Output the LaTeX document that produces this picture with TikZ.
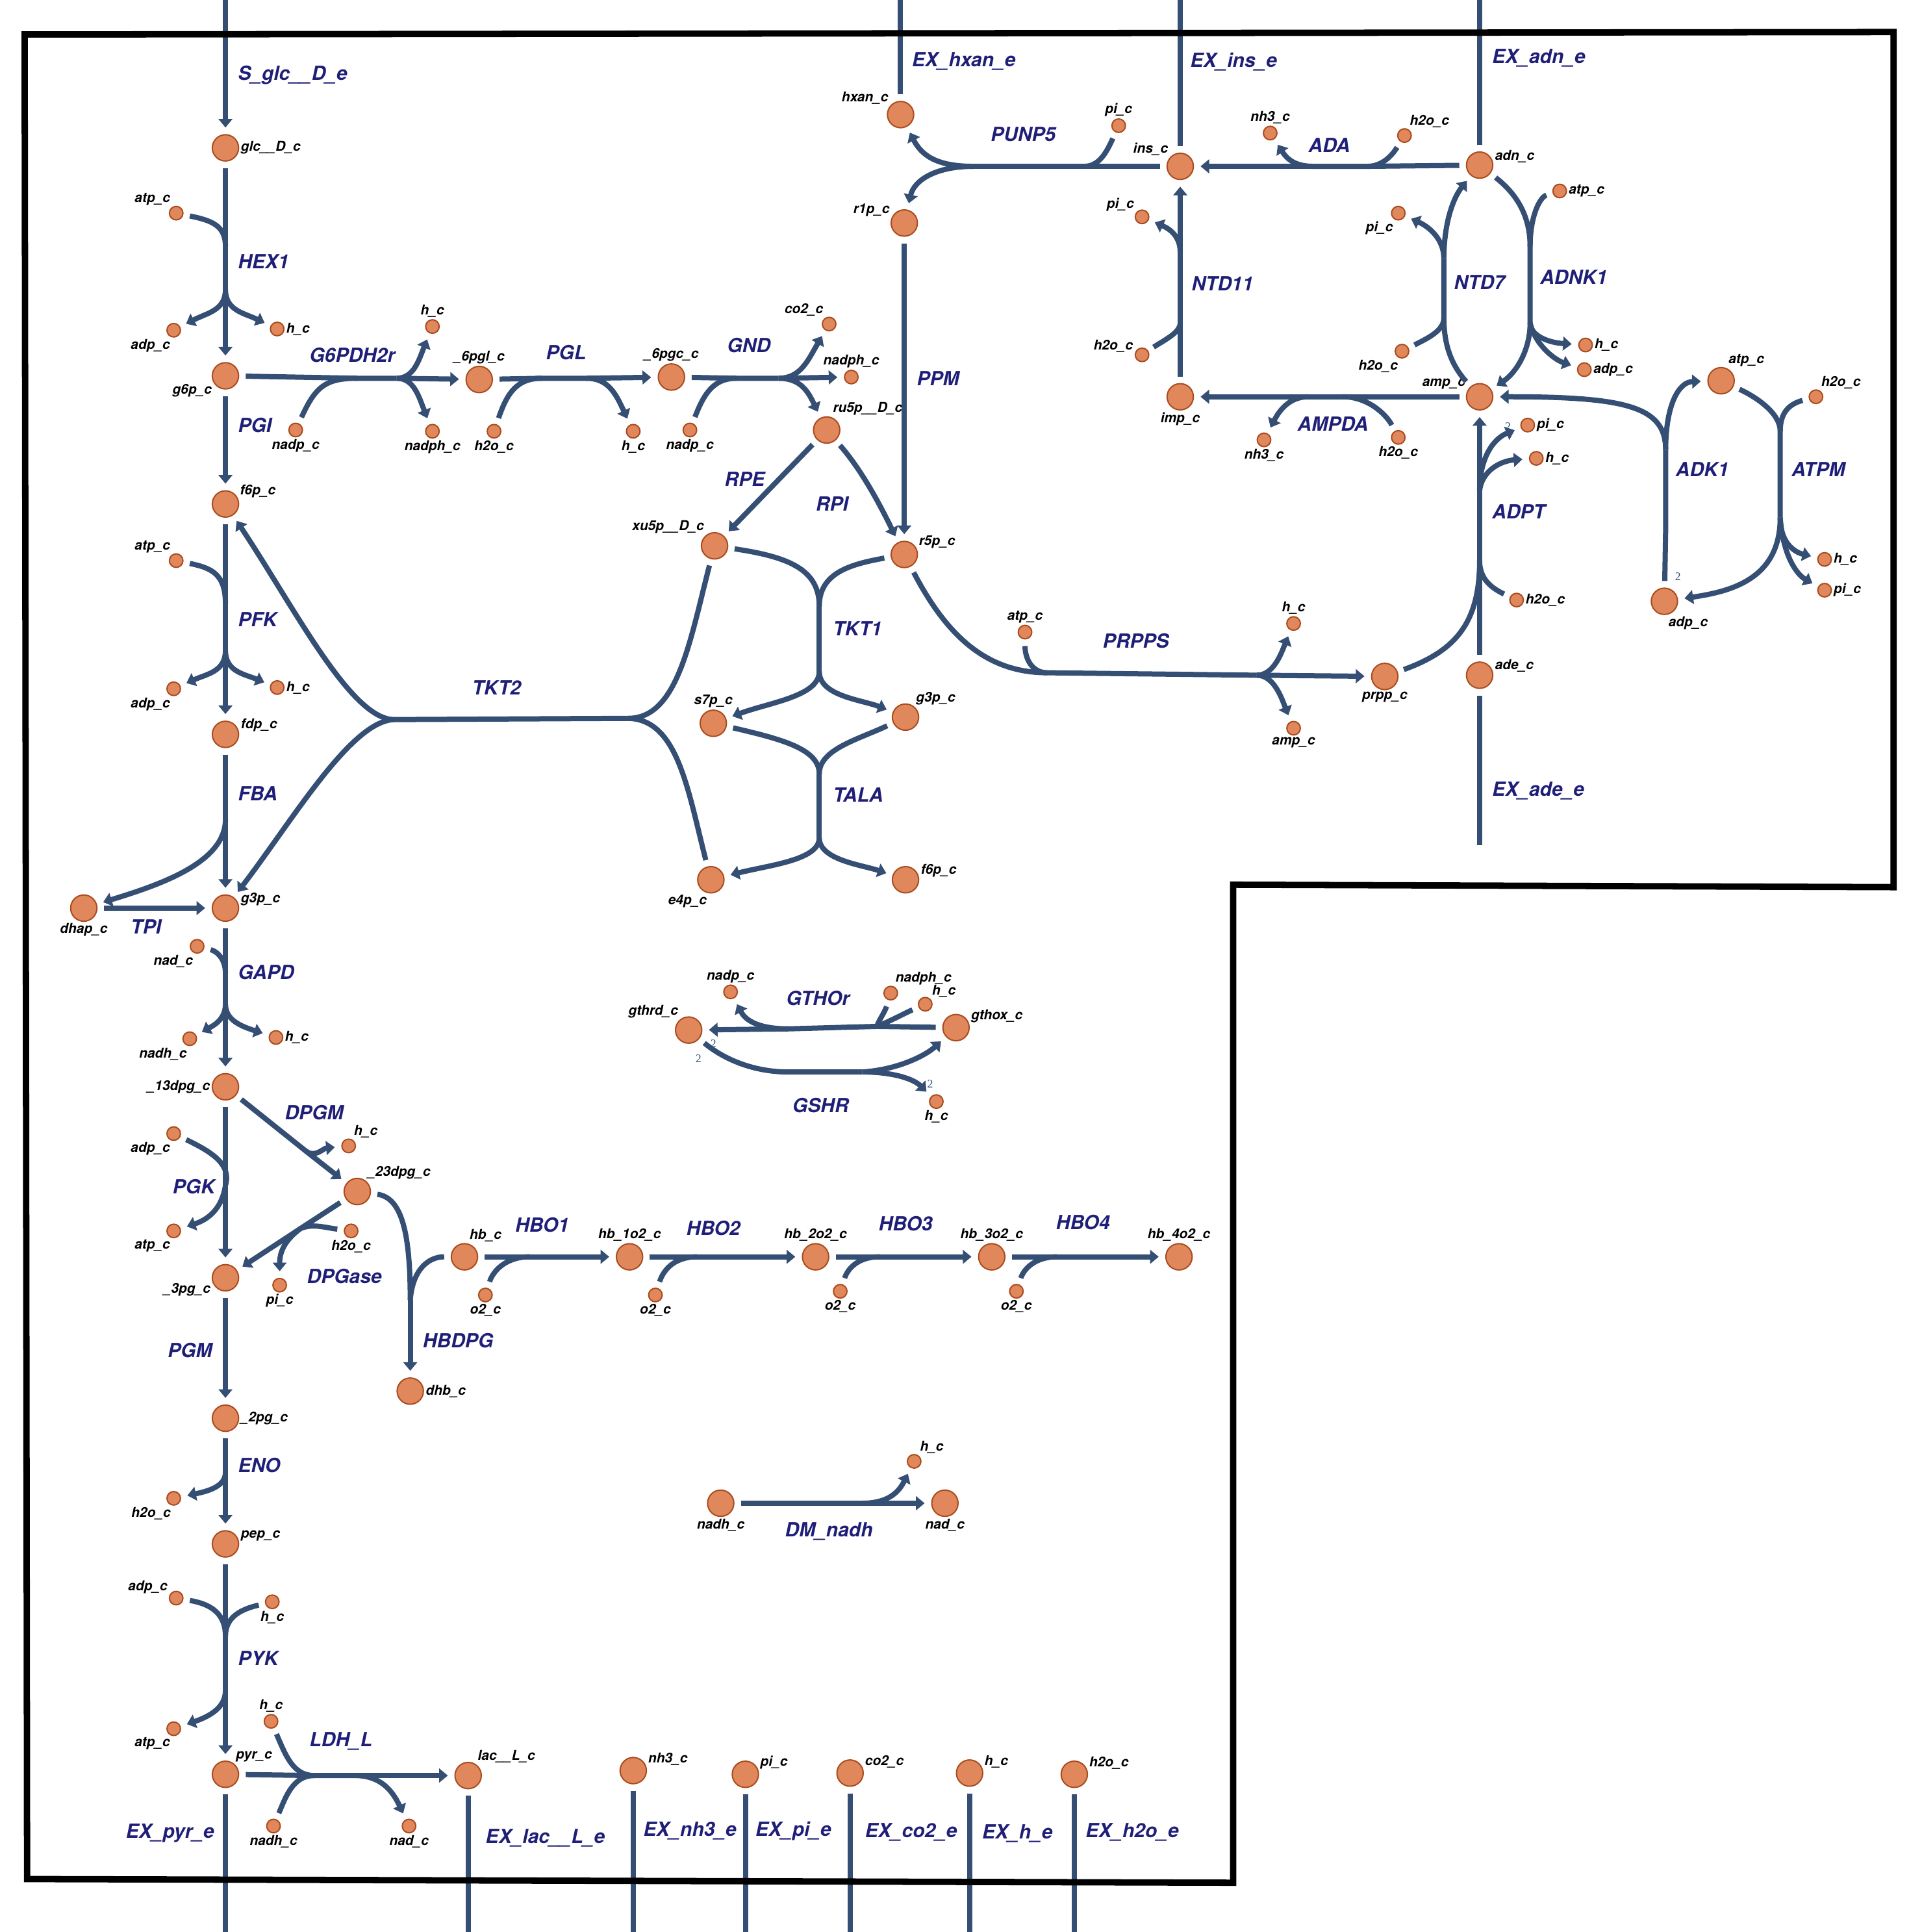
\documentclass[tikz,border=0pt]{standalone}
\usepackage{fontspec}
\setmainfont{TeX Gyre Heros}
\newfontfamily\stoichfont{Liberation Serif}
\usetikzlibrary{arrows.meta}

\definecolor{rxnline}{HTML}{344E74}
\definecolor{rxntext}{HTML}{1F1F78}
\definecolor{metfill}{HTML}{E0885C}
\definecolor{metedge}{HTML}{AA4B1E}

\tikzset{
  met/.style={circle, draw=metedge, fill=metfill, line width=0.9pt, minimum size=0.64cm, inner sep=0pt},
  cof/.style={met, minimum size=0.33cm},
  ml/.style={font=\fontsize{9.4}{10}\selectfont\bfseries\itshape, text=black, inner sep=1pt},
  rl/.style={font=\fontsize{13.5}{15}\selectfont\bfseries\itshape, text=rxntext, anchor=west, inner sep=0pt},
  st/.style={font=\fontsize{8}{9}\selectfont\stoichfont, text=rxnline, inner sep=0pt},
  rxn/.style={draw=rxnline, line width=3.6pt},
  sub/.style={shorten <=4.5pt},
  prod/.style={-{Triangle[length=6pt,width=9.5pt]}, shorten >=4.5pt},
}

\begin{document}
\begin{tikzpicture}[x=0.03cm, y=-0.03cm]
\useasboundingbox (0,0) rectangle (1560,1568);

% glycolysis
\node[met, label={[ml]0:glc\_\_D\_c}] (glc) at (183,120) {};
\node[cof, label={[ml]125:atp\_c}] (atpA) at (143,173) {};
\node[cof, label={[ml]-105:adp\_c}] (adpA) at (141,268) {};
\node[cof, label={[ml]0:h\_c}] (hA) at (225,267) {};
\node[met, label={[ml]-150:g6p\_c}] (g6p) at (183,305) {};
\node[met, label={[ml]20:f6p\_c}] (f6p) at (183,409) {};
\node[cof, label={[ml]125:atp\_c}] (atpB) at (143,455) {};
\node[cof, label={[ml]-105:adp\_c}] (adpB) at (141,559) {};
\node[cof, label={[ml]0:h\_c}] (hD) at (225,558) {};
\node[met, label={[ml]5:fdp\_c}] (fdp) at (183,596) {};
\node[met, label={[ml]-90:dhap\_c}] (dhap) at (68,737) {};
\node[met, label={[ml]3:g3p\_c}] (g3p) at (183,737) {};
\node[cof, label={[ml]-110:nad\_c}] (nadA) at (160,768) {};
\node[cof, label={[ml]-100:nadh\_c}] (nadhA) at (154,843) {};
\node[cof, label={[ml]0:h\_c}] (hE) at (224,842) {};
\node[met, label={[ml]180:\_13dpg\_c}] (dpg13) at (183,882) {};
\node[cof, label={[ml]-105:adp\_c}] (adpC) at (141,920) {};
\node[cof, label={[ml]-105:atp\_c}] (atpC) at (141,999) {};
\node[cof, label={[ml]60:h\_c}] (hF) at (283,930) {};
\node[met, label={[ml]50:\_23dpg\_c}] (dpg23) at (290,967) {};
\node[cof, label={[ml]-90:h2o\_c}] (h2oB) at (285,999) {};
\node[met, label={[ml]-165:\_3pg\_c}] (pg3) at (183,1037) {};
\node[cof, label={[ml]-90:pi\_c}] (piA) at (227,1043) {};
\node[met, label={[ml]0:\_2pg\_c}] (pg2) at (183,1151) {};
\node[cof, label={[ml]-100:h2o\_c}] (h2oC) at (141,1216) {};
\node[met, label={[ml]5:pep\_c}] (pep) at (183,1253) {};
\node[cof, label={[ml]160:adp\_c}] (adpD) at (143,1297) {};
\node[cof, label={[ml]-90:h\_c}] (hG) at (221,1300) {};
\node[cof, label={[ml]-105:atp\_c}] (atpD) at (141,1403) {};
\node[cof, label={[ml]90:h\_c}] (hH) at (220,1397) {};
\node[met, label={[ml]50:pyr\_c}] (pyr) at (183,1440) {};
\node[cof, label={[ml]-90:nadh\_c}] (nadhB) at (222,1482) {};
\node[cof, label={[ml]-90:nad\_c}] (nadB) at (332,1482) {};
\node[met, label={[ml]55:lac\_\_L\_c}] (lac) at (380,1441) {};

% hemoglobin
\node[met, label={[ml]75:hb\_c}] (hb) at (377,1020) {};
\node[met, label={[ml]0:dhb\_c}] (dhb) at (333,1129) {};
\node[cof, label={[ml]-90:o2\_c}] (o2A) at (394,1051) {};
\node[met, label={[ml]90:hb\_1o2\_c}] (hb1) at (511,1020) {};
\node[cof, label={[ml]-90:o2\_c}] (o2B) at (532,1051) {};
\node[met, label={[ml]90:hb\_2o2\_c}] (hb2) at (662,1020) {};
\node[cof, label={[ml]-90:o2\_c}] (o2C) at (682,1048) {};
\node[met, label={[ml]90:hb\_3o2\_c}] (hb3) at (805,1020) {};
\node[cof, label={[ml]-90:o2\_c}] (o2D) at (825,1048) {};
\node[met, label={[ml]90:hb\_4o2\_c}] (hb4) at (957,1020) {};

% pentose phosphate
\node[cof, label={[ml]-90:nadp\_c}] (nadpA) at (240,349) {};
\node[cof, label={[ml]90:h\_c}] (hB) at (351,265) {};
\node[cof, label={[ml]-90:nadph\_c}] (nadphA) at (351,350) {};
\node[met, label={[ml]90:\_6pgl\_c}] (pgl6) at (389,308) {};
\node[cof, label={[ml]-90:h2o\_c}] (h2oA) at (401,350) {};
\node[cof, label={[ml]-90:h\_c}] (hC) at (514,350) {};
\node[met, label={[ml]90:\_6pgc\_c}] (pgc6) at (545,306) {};
\node[cof, label={[ml]-90:nadp\_c}] (nadpB) at (560,349) {};
\node[cof, label={[ml]125:co2\_c}] (co2A) at (673,263) {};
\node[cof, label={[ml]90:nadph\_c}] (nadphB) at (691,306) {};
\node[met, label={[ml]70:ru5p\_\_D\_c}] (ru5p) at (671,349) {};
\node[met, label={[ml]130:xu5p\_\_D\_c}] (xu5p) at (580,443) {};
\node[met, label={[ml]20:r5p\_c}] (r5p) at (734,450) {};
\node[met, label={[ml]160:r1p\_c}] (r1p) at (734,181) {};
\node[met, label={[ml]140:hxan\_c}] (hxan) at (731,93) {};
\node[met, label={[ml]90:s7p\_c}] (s7p) at (579,587) {};
\node[met, label={[ml]50:g3p\_c}] (g3pB) at (735,582) {};
\node[met, label={[ml]-100:e4p\_c}] (e4p) at (577,714) {};
\node[met, label={[ml]5:f6p\_c}] (f6pB) at (735,714) {};
\node[cof, label={[ml]90:atp\_c}] (atpE) at (832,513) {};
\node[cof, label={[ml]90:h\_c}] (hI) at (1050,506) {};
\node[cof, label={[ml]-90:amp\_c}] (ampB) at (1050,591) {};
\node[met, label={[ml]-90:prpp\_c}] (prpp) at (1124,549) {};

% purines
\node[cof, label={[ml]90:pi\_c}] (piB) at (908,102) {};
\node[met, label={[ml]140:ins\_c}] (ins) at (958,135) {};
\node[cof, label={[ml]90:nh3\_c}] (nh3A) at (1031,108) {};
\node[cof, label={[ml]60:h2o\_c}] (h2oD) at (1140,110) {};
\node[met, label={[ml]3:adn\_c}] (adn) at (1201,134) {};
\node[cof, label={[ml]0:atp\_c}] (atpF) at (1266,155) {};
\node[cof, label={[ml]150:pi\_c}] (piC) at (927,176) {};
\node[cof, label={[ml]175:h2o\_c}] (h2oE) at (927,288) {};
\node[met, label={[ml]-90:imp\_c}] (imp) at (958,322) {};
\node[cof, label={[ml]-90:nh3\_c}] (nh3B) at (1026,357) {};
\node[cof, label={[ml]-90:h2o\_c}] (h2oF) at (1135,355) {};
\node[met, label={[ml]155:amp\_c}] (amp) at (1201,322) {};
\node[cof, label={[ml]-120:pi\_c}] (piD) at (1135,173) {};
\node[cof, label={[ml]-110:h2o\_c}] (h2oG) at (1138,285) {};
\node[cof, label={[ml]0:h\_c}] (hJ) at (1287,280) {};
\node[cof, label={[ml]0:adp\_c}] (adpE) at (1286,300) {};
\node[cof, label={[ml]0:pi\_c}] (piE) at (1240,345) {};
\node[cof, label={[ml]0:h\_c}] (hK) at (1247,372) {};
\node[cof, label={[ml]0:h2o\_c}] (h2oH) at (1231,487) {};
\node[met, label={[ml]5:ade\_c}] (ade) at (1201,548) {};
\node[met, label={[ml]65:atp\_c}] (atpG) at (1397,309) {};
\node[cof, label={[ml]60:h2o\_c}] (h2oI) at (1474,322) {};
\node[cof, label={[ml]0:h\_c}] (hL) at (1481,454) {};
\node[cof, label={[ml]0:pi\_c}] (piF) at (1481,479) {};
\node[met, label={[ml]-80:adp\_c}] (adpF) at (1351,488) {};

% glutathione, nadh
\node[cof, label={[ml]90:nadp\_c}] (nadpC) at (593,805) {};
\node[cof, label={[ml]65:nadph\_c}] (nadphC) at (723,806) {};
\node[cof, label={[ml]45:h\_c}] (hM) at (751,815) {};
\node[met, label={[ml]130:gthrd\_c}] (gthrd) at (559,836) {};
\node[met, label={[ml]15:gthox\_c}] (gthox) at (776,834) {};
\node[cof, label={[ml]-90:h\_c}] (hN) at (760,894) {};
\node[met, label={[ml]-90:nadh\_c}] (nadhC) at (585,1220) {};
\node[cof, label={[ml]55:h\_c}] (hO) at (742,1186) {};
\node[met, label={[ml]-90:nad\_c}] (nadC) at (767,1220) {};

% exchanged metabolites
\node[met, label={[ml]15:nh3\_c}] (nh3X) at (514,1437) {};
\node[met, label={[ml]15:pi\_c}] (piX) at (605,1440) {};
\node[met, label={[ml]15:co2\_c}] (co2X) at (690,1439) {};
\node[met, label={[ml]15:h\_c}] (hX) at (787,1439) {};
\node[met, label={[ml]15:h2o\_c}] (h2oX) at (872,1440) {};

% exchange ends
\coordinate (glcE) at (183,0);
\coordinate (hxanE) at (731,0);
\coordinate (insE) at (958,0);
\coordinate (adnE) at (1201,0);
\coordinate (adeE) at (1201,686);
\coordinate (pyrE) at (183,1568);
\coordinate (lacE) at (380,1568);
\coordinate (nh3E) at (514,1568);
\coordinate (piXE) at (605,1568);
\coordinate (co2XE) at (690,1568);
\coordinate (hXE) at (787,1568);
\coordinate (h2oXE) at (872,1568);

\draw[rxn, prod] (glcE) -- (glc);
\draw[rxn, sub] (hxan) -- (hxanE);
\draw[rxn, sub] (ins) -- (insE);
\draw[rxn, sub] (adn) -- (adnE);
\draw[rxn, sub] (ade) -- (adeE);
\draw[rxn, sub] (pyr) -- (pyrE);
\draw[rxn, sub] (lac) -- (lacE);
\draw[rxn, sub] (nh3X) -- (nh3E);
\draw[rxn, sub] (piX) -- (piXE);
\draw[rxn, sub] (co2X) -- (co2XE);
\draw[rxn, sub] (hX) -- (hXE);
\draw[rxn, sub] (h2oX) -- (h2oXE);

% HEX1
\coordinate (hex1a) at (183,200);
\coordinate (hex1b) at (183,235);
\draw[rxn, sub] (glc) -- (hex1a) -- (hex1b);
\draw[rxn, prod] (hex1b) -- (g6p);
\draw[rxn, sub] (atpA) .. controls (172,179) and (183,183) .. (hex1a);
\draw[rxn, prod] (hex1b) .. controls (183,252) and (168,254) .. (adpA);
\draw[rxn, prod] (hex1b) .. controls (183,252) and (198,254) .. (hA);

% PGI
\draw[rxn, sub, prod] (g6p) -- (f6p);

% G6PDH2r
\coordinate (g6pdha) at (290,307);
\coordinate (g6pdhb) at (322,307);
\draw[rxn, sub] (g6p) -- (g6pdha) -- (g6pdhb);
\draw[rxn, prod] (g6pdhb) -- (pgl6);
\draw[rxn, sub] (nadpA) .. controls (256,314) and (264,307) .. (g6pdha);
\draw[rxn, prod] (g6pdhb) .. controls (336,307) and (340,292) .. (hB);
\draw[rxn, prod] (g6pdhb) .. controls (336,307) and (340,322) .. (nadphA);

% PGL
\coordinate (pgla) at (440,307);
\coordinate (pglb) at (476,307);
\draw[rxn, sub] (pgl6) -- (pgla) -- (pglb);
\draw[rxn, prod] (pglb) -- (pgc6);
\draw[rxn, sub] (h2oA) .. controls (412,318) and (420,307) .. (pgla);
\draw[rxn, prod] (pglb) .. controls (494,307) and (500,320) .. (hC);

% GND
\coordinate (gnda) at (598,307);
\coordinate (gndb) at (632,307);
\draw[rxn, sub] (pgc6) -- (gnda) -- (gndb);
\draw[rxn, prod] (gndb) -- (nadphB);
\draw[rxn, sub] (nadpB) .. controls (572,318) and (580,307) .. (gnda);
\draw[rxn, prod] (gndb) .. controls (650,307) and (656,292) .. (co2A);
\draw[rxn, prod] (gndb) .. controls (650,307) and (656,318) .. (ru5p);

% RPE, RPI, PPM
\draw[rxn, sub, prod] (ru5p) -- (xu5p);
\draw[rxn, sub, prod] (ru5p) .. controls (698,380) and (712,405) .. (r5p);
\draw[rxn, sub, prod] (r1p) -- (r5p);

% PUNP5
\coordinate (punp5a) at (880,135);
\coordinate (punp5b) at (790,135);
\draw[rxn, sub] (ins) -- (punp5a) -- (punp5b);
\draw[rxn, sub] (piB) .. controls (898,124) and (892,135) .. (punp5a);
\draw[rxn, prod] (punp5b) .. controls (760,135) and (748,126) .. (hxan);
\draw[rxn, prod] (punp5b) .. controls (760,135) and (742,146) .. (r1p);

% ADA
\coordinate (adaa) at (1110,135);
\coordinate (adab) at (1066,135);
\draw[rxn, sub] (adn) -- (adaa) -- (adab);
\draw[rxn, prod] (adab) -- (ins);
\draw[rxn, sub] (h2oD) .. controls (1130,126) and (1122,135) .. (adaa);
\draw[rxn, prod] (adab) .. controls (1050,135) and (1044,128) .. (nh3A);

% NTD11
\coordinate (ntd11a) at (958,262);
\coordinate (ntd11b) at (958,205);
\draw[rxn, sub] (imp) -- (ntd11a) -- (ntd11b);
\draw[rxn, prod] (ntd11b) -- (ins);
\draw[rxn, sub] (h2oE) .. controls (945,276) and (958,270) .. (ntd11a);
\draw[rxn, prod] (ntd11b) .. controls (958,192) and (950,186) .. (piC);

% AMPDA
\coordinate (ampdaa) at (1090,322);
\coordinate (ampdab) at (1062,322);
\draw[rxn, sub] (amp) -- (ampdaa) -- (ampdab);
\draw[rxn, prod] (ampdab) -- (imp);
\draw[rxn, sub] (h2oF) .. controls (1125,336) and (1110,322) .. (ampdaa);
\draw[rxn, prod] (ampdab) .. controls (1046,322) and (1038,334) .. (nh3B);

% NTD7
\coordinate (ntd7a) at (1172,258);
\coordinate (ntd7b) at (1172,210);
\draw[rxn, sub] (amp) .. controls (1178,296) and (1172,280) .. (ntd7a) -- (ntd7b);
\draw[rxn, prod] (ntd7b) .. controls (1172,180) and (1180,160) .. (adn);
\draw[rxn, sub] (h2oG) .. controls (1160,274) and (1172,268) .. (ntd7a);
\draw[rxn, prod] (ntd7b) .. controls (1172,194) and (1160,184) .. (piD);

% ADNK1
\coordinate (adnk1a) at (1242,200);
\coordinate (adnk1b) at (1242,262);
\draw[rxn, sub] (adn) .. controls (1228,155) and (1242,172) .. (adnk1a) -- (adnk1b);
\draw[rxn, prod] (adnk1b) .. controls (1242,285) and (1230,303) .. (amp);
\draw[rxn, sub] (atpF) .. controls (1250,160) and (1242,175) .. (adnk1a);
\draw[rxn, prod] (adnk1b) .. controls (1242,272) and (1256,278) .. (hJ);
\draw[rxn, prod] (adnk1b) .. controls (1246,280) and (1262,292) .. (adpE);

% ADK1
\coordinate (adk1a) at (1352,430);
\coordinate (adk1b) at (1352,365);
\draw[rxn, sub] (adpF) -- (adk1a) -- (adk1b);
\draw[rxn, prod] (adk1b) .. controls (1352,330) and (1320,322) .. (amp);
\draw[rxn, prod] (adk1b) .. controls (1352,330) and (1362,310) .. (atpG);

% ATPM
\coordinate (atpma) at (1445,350);
\coordinate (atpmb) at (1445,420);
\draw[rxn, sub] (atpG) .. controls (1425,322) and (1445,335) .. (atpma) -- (atpmb);
\draw[rxn, sub] (h2oI) .. controls (1452,328) and (1445,335) .. (atpma);
\draw[rxn, prod] (atpmb) .. controls (1445,470) and (1405,480) .. (adpF);
\draw[rxn, prod] (atpmb) .. controls (1445,440) and (1456,448) .. (hL);
\draw[rxn, prod] (atpmb) .. controls (1447,450) and (1458,466) .. (piF);

% ADPT
\coordinate (adpta) at (1201,455);
\coordinate (adptb) at (1201,398);
\draw[rxn, sub] (ade) -- (adpta) -- (adptb);
\draw[rxn, prod] (adptb) -- (amp);
\draw[rxn, sub] (prpp) .. controls (1182,528) and (1201,505) .. (adpta);
\draw[rxn, sub] (h2oH) .. controls (1208,476) and (1201,468) .. (adpta);
\draw[rxn, prod] (adptb) .. controls (1201,372) and (1212,356) .. (piE);
\draw[rxn, prod] (adptb) .. controls (1203,382) and (1218,374) .. (hK);

% PRPPS
\coordinate (prppsa) at (850,546);
\coordinate (prppsb) at (1020,548);
\draw[rxn, sub] (r5p) .. controls (768,515) and (800,546) .. (prppsa) -- (prppsb);
\draw[rxn, prod] (prppsb) -- (prpp);
\draw[rxn, sub] (atpE) .. controls (832,535) and (838,546) .. (prppsa);
\draw[rxn, prod] (prppsb) .. controls (1034,548) and (1040,530) .. (hI);
\draw[rxn, prod] (prppsb) .. controls (1034,548) and (1040,566) .. (ampB);

% TKT1
\coordinate (tkt1a) at (665,492);
\coordinate (tkt1b) at (665,545);
\draw[rxn, sub] (xu5p) .. controls (640,452) and (665,462) .. (tkt1a);
\draw[rxn, sub] (r5p) .. controls (690,458) and (665,465) .. (tkt1a);
\draw[rxn] (tkt1a) -- (tkt1b);
\draw[rxn, prod] (tkt1b) .. controls (665,565) and (625,570) .. (s7p);
\draw[rxn, prod] (tkt1b) .. controls (665,565) and (700,568) .. (g3pB);

% TALA
\coordinate (talaa) at (665,628);
\coordinate (talab) at (665,680);
\draw[rxn, sub] (s7p) .. controls (635,600) and (665,608) .. (talaa);
\draw[rxn, sub] (g3pB) .. controls (697,600) and (665,608) .. (talaa);
\draw[rxn] (talaa) -- (talab);
\draw[rxn, prod] (talab) .. controls (665,698) and (625,702) .. (e4p);
\draw[rxn, prod] (talab) .. controls (665,698) and (700,702) .. (f6pB);

% TKT2
\coordinate (tkt2a) at (510,583);
\coordinate (tkt2b) at (320,584);
\draw[rxn, sub] (xu5p) .. controls (560,520) and (550,583) .. (tkt2a) -- (tkt2b);
\draw[rxn, sub] (e4p) .. controls (558,640) and (550,584) .. (tkt2a);
\draw[rxn, prod] (tkt2b) .. controls (285,584) and (240,495) .. (f6p);
\draw[rxn, prod] (tkt2b) .. controls (285,585) and (238,665) .. (g3p);

% PFK
\coordinate (pfka) at (183,490);
\coordinate (pfkb) at (183,528);
\draw[rxn, sub] (f6p) -- (pfka) -- (pfkb);
\draw[rxn, prod] (pfkb) -- (fdp);
\draw[rxn, sub] (atpB) .. controls (172,461) and (183,466) .. (pfka);
\draw[rxn, prod] (pfkb) .. controls (183,545) and (168,547) .. (adpB);
\draw[rxn, prod] (pfkb) .. controls (183,545) and (198,547) .. (hD);

% FBA, TPI
\coordinate (fbaa) at (183,665);
\draw[rxn, sub] (fdp) -- (fbaa);
\draw[rxn, prod] (fbaa) -- (g3p);
\draw[rxn, prod] (fbaa) .. controls (183,700) and (130,718) .. (dhap);
\draw[rxn, sub, prod] (dhap) -- (g3p);

% GAPD
\coordinate (gapda) at (183,790);
\coordinate (gapdb) at (183,815);
\draw[rxn, sub] (g3p) -- (gapda) -- (gapdb);
\draw[rxn, prod] (gapdb) -- (dpg13);
\draw[rxn, sub] (nadA) .. controls (176,772) and (183,778) .. (gapda);
\draw[rxn, prod] (gapdb) .. controls (183,828) and (172,833) .. (nadhA);
\draw[rxn, prod] (gapdb) .. controls (183,828) and (196,833) .. (hE);

% PGK
\coordinate (pgka) at (183,962);
\draw[rxn, sub] (dpg13) -- (pgka);
\draw[rxn, prod] (pgka) -- (pg3);
\draw[rxn, sub] (adpC) .. controls (172,935) and (188,945) .. (pgka);
\draw[rxn, prod] (pgka) .. controls (180,982) and (168,990) .. (atpC);

% DPGM
\coordinate (dpgma) at (248,934);
\draw[rxn, sub] (dpg13) -- (dpgma);
\draw[rxn, prod] (dpgma) -- (dpg23);
\draw[rxn, prod] (dpgma) .. controls (256,940) and (262,932) .. (hF);

% DPGase
\coordinate (dpgasea) at (244,997);
\draw[rxn, sub] (dpg23) -- (dpgasea);
\draw[rxn, prod] (dpgasea) -- (pg3);
\draw[rxn, sub] (h2oB) .. controls (262,996) and (254,993) .. (dpgasea);
\draw[rxn, prod] (dpgasea) .. controls (232,1006) and (227,1015) .. (piA);

% HBDPG
\coordinate (hbdpga) at (333,1055);
\draw[rxn, sub] (dpg23) .. controls (326,972) and (333,1000) .. (hbdpga);
\draw[rxn, sub] (hb) .. controls (348,1020) and (335,1030) .. (hbdpga);
\draw[rxn, prod] (hbdpga) -- (dhb);

% HBO1-4
\coordinate (hbo1a) at (430,1020);
\draw[rxn, sub] (hb) -- (hbo1a);
\draw[rxn, prod] (hbo1a) -- (hb1);
\draw[rxn, sub] (o2A) .. controls (400,1032) and (410,1020) .. (hbo1a);
\coordinate (hbo2a) at (566,1020);
\draw[rxn, sub] (hb1) -- (hbo2a);
\draw[rxn, prod] (hbo2a) -- (hb2);
\draw[rxn, sub] (o2B) .. controls (538,1032) and (546,1020) .. (hbo2a);
\coordinate (hbo3a) at (714,1020);
\draw[rxn, sub] (hb2) -- (hbo3a);
\draw[rxn, prod] (hbo3a) -- (hb3);
\draw[rxn, sub] (o2C) .. controls (688,1030) and (696,1020) .. (hbo3a);
\coordinate (hbo4a) at (858,1020);
\draw[rxn, sub] (hb3) -- (hbo4a);
\draw[rxn, prod] (hbo4a) -- (hb4);
\draw[rxn, sub] (o2D) .. controls (831,1030) and (840,1020) .. (hbo4a);

% PGM, ENO
\draw[rxn, sub, prod] (pg3) -- (pg2);
\coordinate (enoa) at (183,1195);
\draw[rxn, sub] (pg2) -- (enoa);
\draw[rxn, prod] (enoa) -- (pep);
\draw[rxn, prod] (enoa) .. controls (183,1206) and (170,1210) .. (h2oC);

% PYK
\coordinate (pyka) at (183,1328);
\coordinate (pykb) at (183,1372);
\draw[rxn, sub] (pep) -- (pyka) -- (pykb);
\draw[rxn, prod] (pykb) -- (pyr);
\draw[rxn, sub] (adpD) .. controls (172,1302) and (183,1310) .. (pyka);
\draw[rxn, sub] (hG) .. controls (196,1306) and (183,1312) .. (pyka);
\draw[rxn, prod] (pykb) .. controls (183,1386) and (170,1393) .. (atpD);

% LDH_L
\coordinate (ldha) at (255,1441);
\coordinate (ldhb) at (288,1441);
\draw[rxn, sub] (pyr) -- (ldha) -- (ldhb);
\draw[rxn, prod] (ldhb) -- (lac);
\draw[rxn, sub] (hH) .. controls (232,1425) and (238,1441) .. (ldha);
\draw[rxn, sub] (nadhB) .. controls (232,1458) and (238,1441) .. (ldha);
\draw[rxn, prod] (ldhb) .. controls (308,1441) and (318,1452) .. (nadB);

% GTHOr
\coordinate (gthora) at (712,833);
\coordinate (gthorb) at (640,835);
\draw[rxn, sub] (gthox) -- (gthora) -- (gthorb);
\draw[rxn, prod] (gthorb) -- (gthrd);
\draw[rxn, sub] (nadphC) .. controls (718,822) and (712,830) .. (gthora);
\draw[rxn, sub] (hM) .. controls (735,822) and (722,829) .. (gthora);
\draw[rxn, prod] (gthorb) .. controls (612,835) and (604,826) .. (nadpC);

% GSHR
\coordinate (gshra) at (640,870);
\coordinate (gshrb) at (700,870);
\draw[rxn, sub] (gthrd) .. controls (588,860) and (612,870) .. (gshra) -- (gshrb);
\draw[rxn, prod] (gshrb) .. controls (730,868) and (752,856) .. (gthox);
\draw[rxn, prod] (gshrb) .. controls (726,870) and (742,876) .. (hN);

% DM_nadh
\coordinate (dmnadha) at (700,1220);
\draw[rxn, sub] (nadhC) -- (dmnadha);
\draw[rxn, prod] (dmnadha) -- (nadC);
\draw[rxn, prod] (dmnadha) .. controls (722,1220) and (730,1210) .. (hO);

% stoichiometry
\node[st] (stA) at (1362,468) {2};
\node[st] (stB) at (1224,346) {2};
\node[st] (stC) at (579,847) {2};
\node[st] (stD) at (567,859) {2};
\node[st] (stE) at (755,880) {2};

% reaction labels
\node[rl] (lSglc) at (193,61) {S\_glc\_\_D\_e};
\node[rl] (lHEX1) at (193,212) {HEX1};
\node[rl] (lG6PDH2r) at (251,288) {G6PDH2r};
\node[rl] (lPGI) at (193,345) {PGI};
\node[rl] (lPGL) at (443,286) {PGL};
\node[rl] (lGND) at (590,280) {GND};
\node[rl] (lPPM) at (744,307) {PPM};
\node[rl] (lRPE) at (588,389) {RPE};
\node[rl] (lRPI) at (662,409) {RPI};
\node[rl] (lPUNP5) at (804,109) {PUNP5};
\node[rl] (lEXhxan) at (740,50) {EX\_hxan\_e};
\node[rl] (lEXins) at (966,50) {EX\_ins\_e};
\node[rl] (lEXadn) at (1211,47) {EX\_adn\_e};
\node[rl] (lADA) at (1062,118) {ADA};
\node[rl] (lNTD11) at (967,230) {NTD11};
\node[rl] (lNTD7) at (1180,229) {NTD7};
\node[rl] (lADNK1) at (1250,225) {ADNK1};
\node[rl] (lAMPDA) at (1053,344) {AMPDA};
\node[rl] (lADK1) at (1360,381) {ADK1};
\node[rl] (lATPM) at (1454,381) {ATPM};
\node[rl] (lADPT) at (1211,415) {ADPT};
\node[rl] (lPRPPS) at (895,520) {PRPPS};
\node[rl] (lTKT1) at (676,510) {TKT1};
\node[rl] (lTALA) at (676,645) {TALA};
\node[rl] (lTKT2) at (383,558) {TKT2};
\node[rl] (lEXade) at (1211,642) {EX\_ade\_e};
\node[rl] (lPFK) at (193,503) {PFK};
\node[rl] (lFBA) at (193,644) {FBA};
\node[rl] (lTPI) at (106,752) {TPI};
\node[rl] (lGAPD) at (193,789) {GAPD};
\node[rl] (lDPGM) at (231,903) {DPGM};
\node[rl] (lPGK) at (140,963) {PGK};
\node[rl] (lDPGase) at (249,1036) {DPGase};
\node[rl] (lHBDPG) at (343,1088) {HBDPG};
\node[rl] (lHBO1) at (418,994) {HBO1};
\node[rl] (lHBO2) at (557,997) {HBO2};
\node[rl] (lHBO3) at (713,993) {HBO3};
\node[rl] (lHBO4) at (857,992) {HBO4};
\node[rl] (lGTHOr) at (638,810) {GTHOr};
\node[rl] (lGSHR) at (643,897) {GSHR};
\node[rl] (lPGM) at (136,1096) {PGM};
\node[rl] (lENO) at (193,1189) {ENO};
\node[rl] (lPYK) at (193,1346) {PYK};
\node[rl] (lLDH) at (251,1413) {LDH\_L};
\node[rl] (lDMnadh) at (637,1243) {DM\_nadh};
\node[rl] (lEXpyr) at (102,1488) {EX\_pyr\_e};
\node[rl] (lEXlac) at (394,1492) {EX\_lac\_\_L\_e};
\node[rl] (lEXnh3) at (522,1486) {EX\_nh3\_e};
\node[rl] (lEXpi) at (613,1486) {EX\_pi\_e};
\node[rl] (lEXco2) at (702,1487) {EX\_co2\_e};
\node[rl] (lEXh) at (797,1488) {EX\_h\_e};
\node[rl] (lEXh2o) at (881,1487) {EX\_h2o\_e};

% compartment border
\draw[line width=4.4pt, line join=miter] (20,28) -- (1537,26) -- (1537,720) -- (1001,718) -- (1001,1528) -- (22,1525) -- cycle;
\end{tikzpicture}
\end{document}
